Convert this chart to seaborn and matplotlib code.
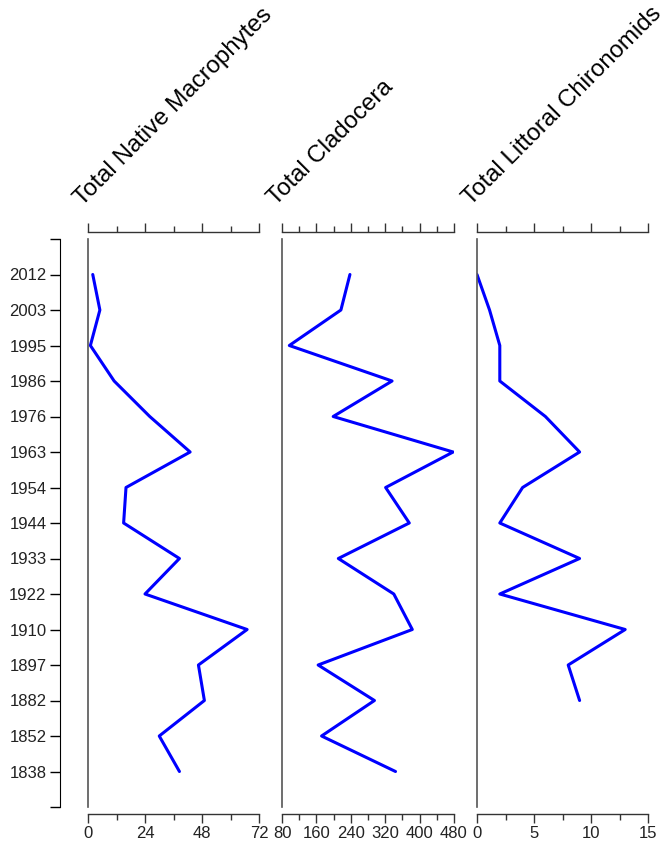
import numpy as np
import pandas as pd
import matplotlib
matplotlib.use('Agg')
import matplotlib.pyplot as plt
from matplotlib.ticker import MultipleLocator
import seaborn as sns

# ---------------------------------------------------------------------------
# data (top = most recent)
# ---------------------------------------------------------------------------
years = ['2012', '2003', '1995', '1986', '1976', '1963', '1954', '1944',
         '1933', '1922', '1910', '1897', '1882', '1852', '1838']
macrophytes = [2, 5, 1, 11, 26, 43, 16, 15, 38.5, 24, 67, 46.5, 49, 30, 38.5]
cladocera = [238, 217, 97, 336, 199, 478, 321, 376, 211, 340, 383, 164, 295, 172, 344]
chironomids = [0, 1.1, 2, 2, 6, 9, 4, 2, 9, 2, 13, 8, 9, np.nan, np.nan]

titles = ['Total Native Macrophytes', 'Total Cladocera', 'Total Littoral Chironomids']
series = [macrophytes, cladocera, chironomids]
xlims = [(0, 72), (80, 480), (0, 15)]
majors = [24, 80, 5]
minors = [12, 40, 2.5]

# ---------------------------------------------------------------------------
# layout
# ---------------------------------------------------------------------------
sns.set_style('ticks')
plt.rcParams['font.family'] = ['Liberation Sans', 'DejaVu Sans']

W, H = 671, 842
fig = plt.figure(figsize=(W / 100, H / 100), dpi=100)

top_px, bot_px = 239, 807
ax_bottom = 1 - bot_px / H
ax_height = (bot_px - top_px) / H
panel_left = [88, 282, 477]
panel_width = [171, 172, 171]

pos = np.arange(len(years))
df = pd.DataFrame({'year': years, 'pos': pos})

# year axis
ay = fig.add_axes([60 / W, ax_bottom, 0.0001, ax_height])
ay.set_ylim(15, -1)
ay.set_yticks(np.arange(-1, 16))
ay.set_yticklabels([''] + years + [''], fontsize=12, color='#222222')
ay.set_xticks([])
for s in ['top', 'right', 'bottom']:
    ay.spines[s].set_visible(False)
ay.spines['left'].set_color('black')
ay.tick_params(axis='y', length=7.2, width=1, color='black', pad=2.5)

for i, (vals, title) in enumerate(zip(series, titles)):
    ax = fig.add_axes([panel_left[i] / W, ax_bottom, panel_width[i] / W, ax_height])
    d = df.assign(value=vals).dropna()
    sns.lineplot(data=d, x='value', y='pos', orient='y', sort=False,
                 color='blue', lw=2.2, ax=ax)
    ax.set_ylim(15, -1)
    ax.set_xlim(*xlims[i])
    ax.set_xlabel('')
    ax.set_ylabel('')
    ax.set_yticks([])
    ax.xaxis.set_major_locator(MultipleLocator(majors[i]))
    ax.xaxis.set_minor_locator(MultipleLocator(minors[i]))
    ax.tick_params(axis='x', which='both', top=True, bottom=True,
                   labeltop=False, labelbottom=True, direction='out',
                   color='#333333', width=1)
    ax.tick_params(axis='x', which='major', length=6.5, labelsize=12,
                   labelcolor='#222222', pad=2.5)
    ax.tick_params(axis='x', which='minor', length=4.5)
    ax.spines['right'].set_visible(False)
    ax.spines['top'].set_position(('outward', 5))
    ax.spines['bottom'].set_position(('outward', 5))
    for s in ['top', 'bottom']:
        ax.spines[s].set_color('#333333')
        ax.spines[s].set_linewidth(1)
    ax.spines['left'].set_color('#555555')
    ax.spines['left'].set_linewidth(1.2)
    ax.patch.set_alpha(0)

    fig.text((panel_left[i] - 6) / W, 1 - 206 / H, title, rotation=45,
             rotation_mode='anchor', ha='left', va='baseline',
             fontsize=17.3, color='black')

fig.savefig('out.png', dpi=100)
